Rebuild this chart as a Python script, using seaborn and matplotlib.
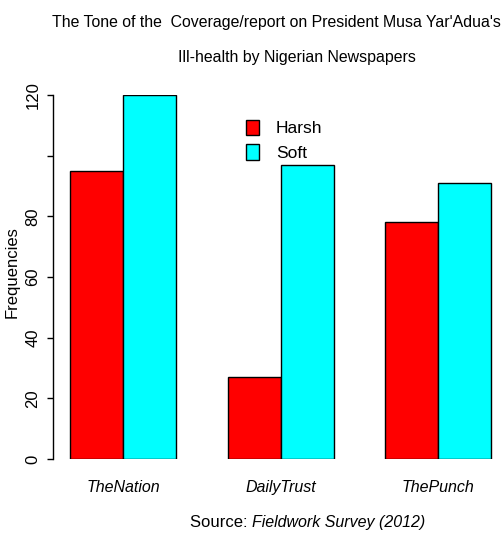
import matplotlib
matplotlib.use("Agg")
import matplotlib.pyplot as plt
import seaborn as sns
import pandas as pd

# data
papers = ["TheNation", "DailyTrust", "ThePunch"]
harsh = [95, 27, 78]
soft = [120, 97, 91]
tones = ["Harsh", "Soft"]
yticks = [0, 20, 40, 60, 80, 100, 120]
ytick_labels = ["0", "20", "40", "60", "80", "", "120"]

sns.set_style("white")
plt.rcParams["font.family"] = ["Liberation Sans", "DejaVu Sans"]
plt.rcParams["text.color"] = "black"

df = pd.DataFrame({
    "paper": papers * 2,
    "freq": harsh + soft,
    "tone": ["Harsh"] * 3 + ["Soft"] * 3,
})

W, H = 504, 537
fig = plt.figure(figsize=(W / 100, H / 100), dpi=100)
# axes box in pixels: left spine at x=53, y=0 at 459, y=120 at 95
ax = fig.add_axes([53 / W, (H - 459) / H, (500 - 53) / W, 364 / H])

sns.barplot(data=df, x="paper", y="freq", hue="tone", hue_order=tones,
            palette=["#FF0000", "#00FFFF"], saturation=1, width=0.673,
            edgecolor="black", linewidth=1.0, ax=ax)

ax.set_xlim((53 - 122.9) / 157.7, (500 - 122.9) / 157.7)
ax.set_ylim(0, 120)
ax.set_xlabel("")
ax.set_ylabel("")

for s in ["top", "right", "bottom"]:
    ax.spines[s].set_visible(False)
ax.spines["left"].set_bounds(0, 120)
ax.spines["left"].set_color("black")
ax.spines["left"].set_linewidth(1.0)

ax.set_yticks(yticks)
ax.set_yticklabels(ytick_labels, rotation=90, va="center", fontsize=12)
ax.tick_params(axis="y", direction="out", length=4, width=1, pad=5, left=True,
               colors="black")
ax.tick_params(axis="x", length=0, pad=15, colors="black")
for lab in ax.get_xticklabels():
    lab.set_fontstyle("italic")
    lab.set_fontsize(11.5)

handles, labels = ax.get_legend_handles_labels()
ax.legend(handles, labels, frameon=False, loc="upper left",
          bbox_to_anchor=(230 / W, 1 - 104 / H), bbox_transform=fig.transFigure,
          handlelength=0.75, handleheight=1.0, handletextpad=1.0,
          labelspacing=0.45, fontsize=12.5)

fig.text(276 / W, 1 - 22 / H,
         "The Tone of the  Coverage/report on President Musa Yar'Adua's",
         ha="center", va="center", fontsize=11.4)
fig.text(297 / W, 1 - 57 / H, "Ill-health by Nigerian Newspapers",
         ha="center", va="center", fontsize=11.4)

fig.text(12 / W, 1 - 272 / H, "Frequencies", rotation=90, ha="center", va="center",
         fontsize=12)

fig.text(252 / W, 1 - 527 / H, "Source: ", ha="right", va="baseline", fontsize=12)
fig.text(252 / W, 1 - 527 / H, "Fieldwork Survey (2012)", ha="left", va="baseline",
         fontsize=11.5, fontstyle="italic")

fig.savefig("out.png", dpi=100)
